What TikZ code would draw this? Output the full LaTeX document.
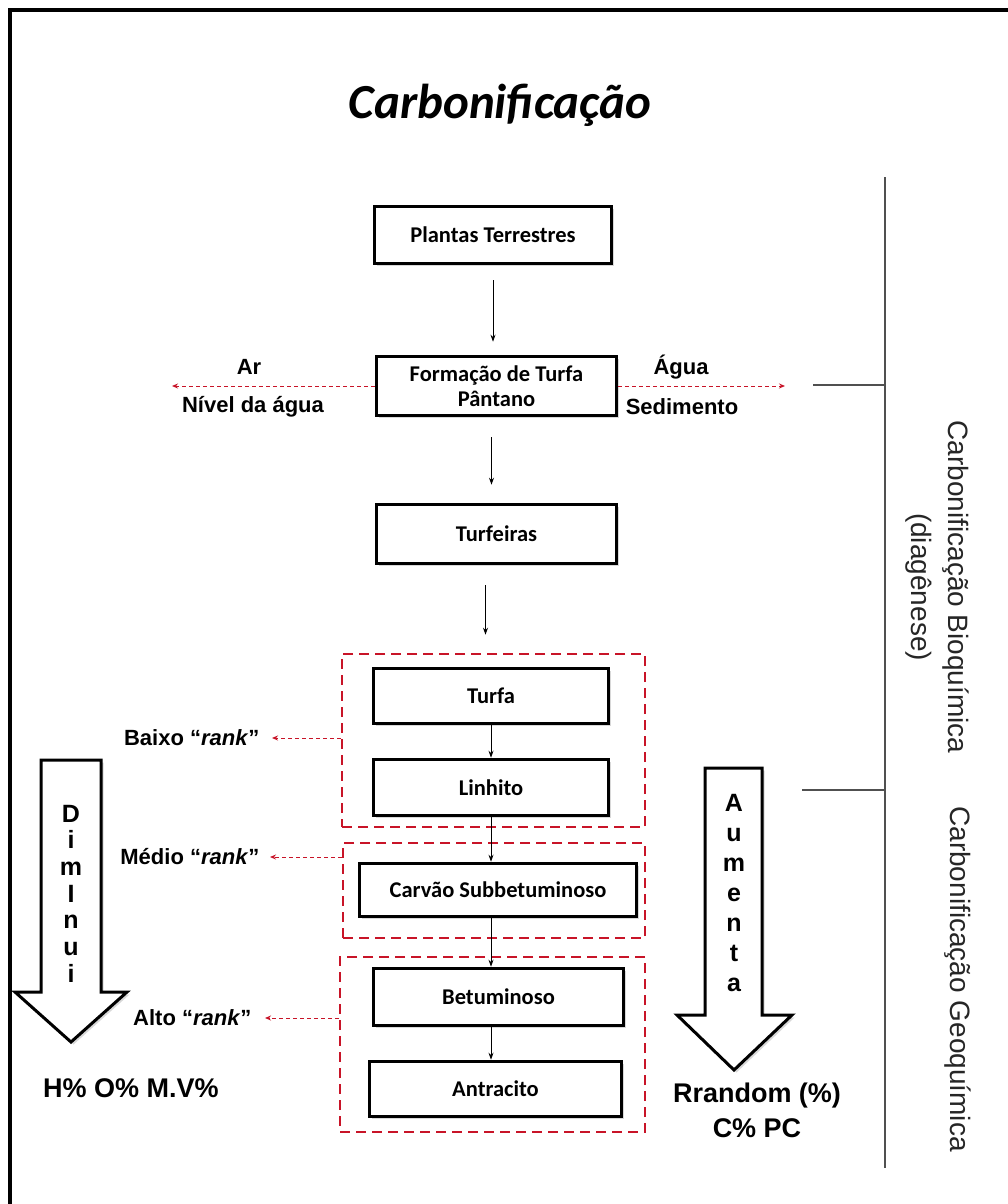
\documentclass[tikz,border=0pt]{standalone}
\usepackage{fontspec}
\setmainfont{Carlito}
\newfontfamily\arialf{Liberation Sans}
\usetikzlibrary{arrows.meta,shadows}
\definecolor{rankred}{RGB}{200,20,40}
\definecolor{brk}{RGB}{80,80,80}
\begin{document}
\begin{tikzpicture}[x=1pt,y=-1pt,
  box/.style={draw=black, line width=3.6pt, fill=white, inner sep=0pt,
    font=\bfseries\fontsize{22.5}{25}\selectfont, align=center,
    drop shadow={shadow xshift=2.5pt, shadow yshift=-2.5pt, opacity=0.3}},
  grp/.style={draw=rankred, line width=2.2pt, dash pattern=on 10pt off 6pt, inner sep=0pt},
  flow/.style={-{Stealth[length=7pt,width=5pt]}, line width=0.9pt},
  redarr/.style={rankred, line width=1pt, dash pattern=on 4pt off 3pt, -{Stealth[length=6pt,width=5pt]}},
  side/.style={font=\arialf\bfseries\fontsize{22}{26}\selectfont},
  letter/.style={font=\arialf\bfseries\fontsize{25}{28}\selectfont, anchor=base, inner sep=0pt},
  big/.style={font=\arialf\bfseries\fontsize{27}{35}\selectfont, align=center},
  hollow/.style={draw=black, line width=3pt, fill=white, line join=miter,
    drop shadow={shadow xshift=2.5pt, shadow yshift=-2.5pt, opacity=0.3}},
  rot/.style={font=\arialf\fontsize{28}{37}\selectfont, rotate=-90, align=center, text=black!85},
  brkline/.style={draw=brk, line width=1.5pt}
]
\useasboundingbox (0,0) rectangle (1008,1204);
\fill[white] (0,0) rectangle (1008,1204);
% outer frame
\draw[line width=3.5pt] (10,1215) -- (10,10) -- (1020,10);

% title
\node[font=\bfseries\itshape\fontsize{49}{54}\selectfont] (title) at (500,105) {Carbonificação};

% dashed group frames
\node[grp, minimum width=303pt, minimum height=173pt] (grp1) at (493.5,740.5) {};
\node[grp, minimum width=302pt, minimum height=95pt] (grp2) at (494,890.5) {};
\node[grp, minimum width=305pt, minimum height=175pt] (grp3) at (492.5,1044.5) {};

% boxes
\node[box, minimum width=237pt, minimum height=57pt] (plantas) at (493,235) {Plantas Terrestres};
\node[box, minimum width=240pt, minimum height=59pt] (formacao) at (496.5,386) {Formação de Turfa\\Pântano};
\node[box, minimum width=240pt, minimum height=59pt] (turfeiras) at (496.5,534) {Turfeiras};
\node[box, minimum width=235pt, minimum height=55pt] (turfa) at (491,696) {Turfa};
\node[box, minimum width=235pt, minimum height=56pt] (linhito) at (491,787.5) {Linhito};
\node[box, minimum width=277pt, minimum height=53pt] (carvao) at (498,890) {Carvão Subbetuminoso};
\node[box, minimum width=250pt, minimum height=57pt] (betum) at (498.5,997) {Betuminoso};
\node[box, minimum width=252pt, minimum height=55pt] (antrac) at (495.5,1089) {Antracito};

% flow connectors
\draw[flow, shorten <=15pt, shorten >=13pt] (plantas.south) -- (plantas.south |- formacao.north);
\draw[flow, shorten <=20pt, shorten >=18pt] ([xshift=-5pt]formacao.south) -- ([xshift=-5pt]formacao.south |- turfeiras.north);
\draw[flow, shorten <=20pt, shorten >=32pt] ([xshift=-11pt]turfeiras.south) -- ([xshift=-11pt]turfeiras.south |- turfa.north);
\draw[flow] (turfa.south) -- (linhito.north);
\draw[flow] (linhito.south) -- (linhito.south |- carvao.north);
\draw[flow] (carvao.south -| linhito.south) -- (betum.north -| linhito.south);
\draw[flow] (betum.south -| linhito.south) -- (antrac.north -| linhito.south);

% side labels at Formacao
\coordinate (arend) at (172,386);
\coordinate (agend) at (785,386);
\draw[redarr] (formacao.west) -- (arend);
\draw[redarr] (formacao.east) -- (agend);
\node[side] (ar) at (249,367) {Ar};
\node[side] (nivel) at (253,407) {Nível da água};
\node[side] (agua) at (681,367) {Água};
\node[side] (sedim) at (682,407) {Sedimento};

% rank labels
\node[side, anchor=east] (baixo) at (263,738) {Baixo “\textit{rank}”};
\node[side, anchor=east] (medio) at (263,857) {Médio “\textit{rank}”};
\node[side, anchor=east] (alto) at (255,1018) {Alto “\textit{rank}”};
\draw[redarr, shorten >=9pt] (grp1.west |- baixo.east) -- (baixo.east);
\draw[redarr, shorten >=7pt] (grp2.west |- medio.east) -- (medio.east);
\draw[redarr, shorten >=10pt] (grp3.west |- alto.east) -- (alto.east);

% hollow arrows
\draw[hollow] (41,760) -- (101,760) -- (101,992) -- (127,992) -- (71,1042) -- (15,992) -- (41,992) -- cycle;
\draw[hollow] (705,768) -- (762,768) -- (762,1015) -- (792,1015) -- (734,1070) -- (677,1015) -- (705,1015) -- cycle;
\foreach \l [count=\i] in {D,i,m,I,n,u,i}
  \node[letter] (dim\i) at (71,{822+26.7*(\i-1)}) {\l};
\foreach \l [count=\i] in {A,u,m,e,n,t,a}
  \node[letter] (aum\i) at (734,{811+30*(\i-1)}) {\l};

\node[big] (hov) at (131,1088) {H\% O\% M.V\%};
\node[big] (rrand) at (757,1110) {Rrandom (\%)\\C\% PC};

% bracket lines
\coordinate (btop) at (885,177);
\coordinate (bbot) at (885,1168);
\coordinate (b1) at (813,385);
\coordinate (b2) at (802,790);
\draw[brkline] (btop) -- (bbot);
\draw[brkline] (b1) -- (b1 -| btop);
\draw[brkline] (b2) -- (b2 -| btop);

% rotated labels
\node[rot] (bioq) at (937,587) {Carbonificação Bioquímica\\(diagênese)};
\node[rot] (geoq) at (958,979) {Carbonificação Geoquímica};
\end{tikzpicture}
\end{document}
